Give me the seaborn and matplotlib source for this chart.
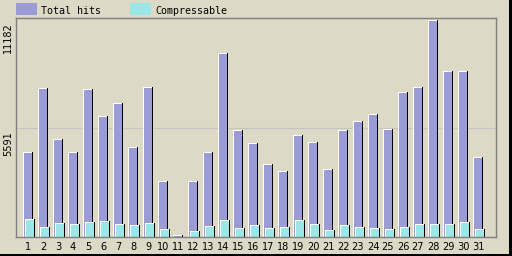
import numpy as np
import matplotlib
matplotlib.use("Agg")
import matplotlib.pyplot as plt
import seaborn as sns
from matplotlib.patches import Rectangle
from matplotlib.transforms import offset_copy
from matplotlib import font_manager

# ---------------- data ----------------
days = list(range(1, 32))
total_hits = [4330, 7602, 4994, 4330, 7551, 6170, 6835, 4585, 7653, 2847,
              90, 2847, 4330, 9392, 5455, 4790, 3716, 3358, 5199, 4841,
              3460, 5455, 5915, 6273, 5506, 7398, 7653, 11080, 8472, 8472, 4074]
compressable = [903, 494, 699, 648, 750, 801, 648, 597, 699, 392,
                20, 290, 545, 852, 443, 597, 443, 494, 852, 648,
                341, 597, 494, 443, 392, 494, 648, 648, 648, 750, 392]
series_names = ["Total hits", "Compressable"]
y_max = 11182
ytick_values = [5591, 11182]
ytick_labels = ["5591", "11182"]

# ---------------- style ----------------
W, H = 512, 256
bg = "#DCD9C6"
purple = "#9B9BD6"
cyan = "#9BE6E6"
frame_col = "#808080"
grid_col = "#C4C4C4"

condensed = any(f.name == "DejaVu Sans" and str(f.stretch) in ("condensed", "semi-condensed", "75", "87")
                for f in font_manager.fontManager.ttflist)
if condensed:
    num_kw = dict(fontfamily="DejaVu Sans", fontstretch="condensed", fontsize=7.8)
else:
    num_kw = dict(fontfamily="DejaVu Sans", fontsize=7.0)
leg_font = "DejaVu Sans Mono"

fig = plt.figure(figsize=(W / 100, H / 100), dpi=100, facecolor=bg)
ax_l, ax_r, ax_t, ax_b = 16, 496, 18, 237
ax = fig.add_axes([ax_l / W, 1 - ax_b / H, (ax_r - ax_l) / W, (ax_b - ax_t) / H])
ax.set_facecolor(bg)

px_per_day = 15.0
first_day_px = 28.0
px_x = 1 / px_per_day
px_y = y_max / (ax_b - ax_t)

x = np.array(days, dtype=float)


def bars3d(xpos, heights, color, w_px=10):
    h = np.asarray(heights, dtype=float)
    common = dict(native_scale=True, errorbar=None, linewidth=0, saturation=1, ax=ax)
    sns.barplot(x=xpos, y=h, width=w_px * px_x, color="black", **common)
    sns.barplot(x=xpos - 0.5 * px_x, y=h, width=(w_px - 1) * px_x, color="white", **common)
    sns.barplot(x=xpos, y=np.maximum(h - px_y, 0), width=(w_px - 2) * px_x, color=color, **common)


bars3d(x, total_hits, purple)
bars3d(x + 2 * px_x, compressable, cyan)

ax.set_xlim(1 + (ax_l - first_day_px) / px_per_day, 1 + (ax_r - first_day_px) / px_per_day)
ax.set_ylim(0, y_max)

ax.set_xticks(days)
ax.set_xticklabels([str(d) for d in days], **num_kw)
ax.tick_params(axis="x", length=0, pad=3.5, colors="black")
ax.set_yticks(ytick_values)
ax.set_yticklabels([])
ax.tick_params(axis="y", length=0)
ax.yaxis.grid(True, color=grid_col, linewidth=0.8)
ax.set_axisbelow(True)
ax.set_xlabel("")
ax.set_ylabel("")
for s in ax.spines.values():
    s.set_color(frame_col)
    s.set_linewidth(1.0)

ytrans = offset_copy(ax.get_yaxis_transform(), fig=fig, x=-3, y=-4, units="dots")
for v, lab in zip(ytick_values, ytick_labels):
    ax.text(0, v, lab, transform=ytrans, rotation=90, ha="right", va="top",
            color="black", **num_kw)

# legend
leg_colors = [purple, cyan]
leg_x = [16, 130]
for name, col, lx in zip(series_names, leg_colors, leg_x):
    fig.add_artist(Rectangle((lx / W, 1 - 15 / H), 21 / W, 12 / H,
                             transform=fig.transFigure, facecolor=col, edgecolor="none"))
    fig.text((lx + 25) / W, 1 - 10.5 / H, name, ha="left", va="center",
             fontfamily=leg_font, fontsize=7.2, color="black")

# outer black border (right and bottom)
fig.add_artist(Rectangle((1 - 3 / W, 0), 3 / W, 1, transform=fig.transFigure,
                         facecolor="black", edgecolor="none"))
fig.add_artist(Rectangle((0, 0), 1, 2 / H, transform=fig.transFigure,
                         facecolor="black", edgecolor="none"))

fig.savefig("out.png", dpi=100, facecolor=bg)
